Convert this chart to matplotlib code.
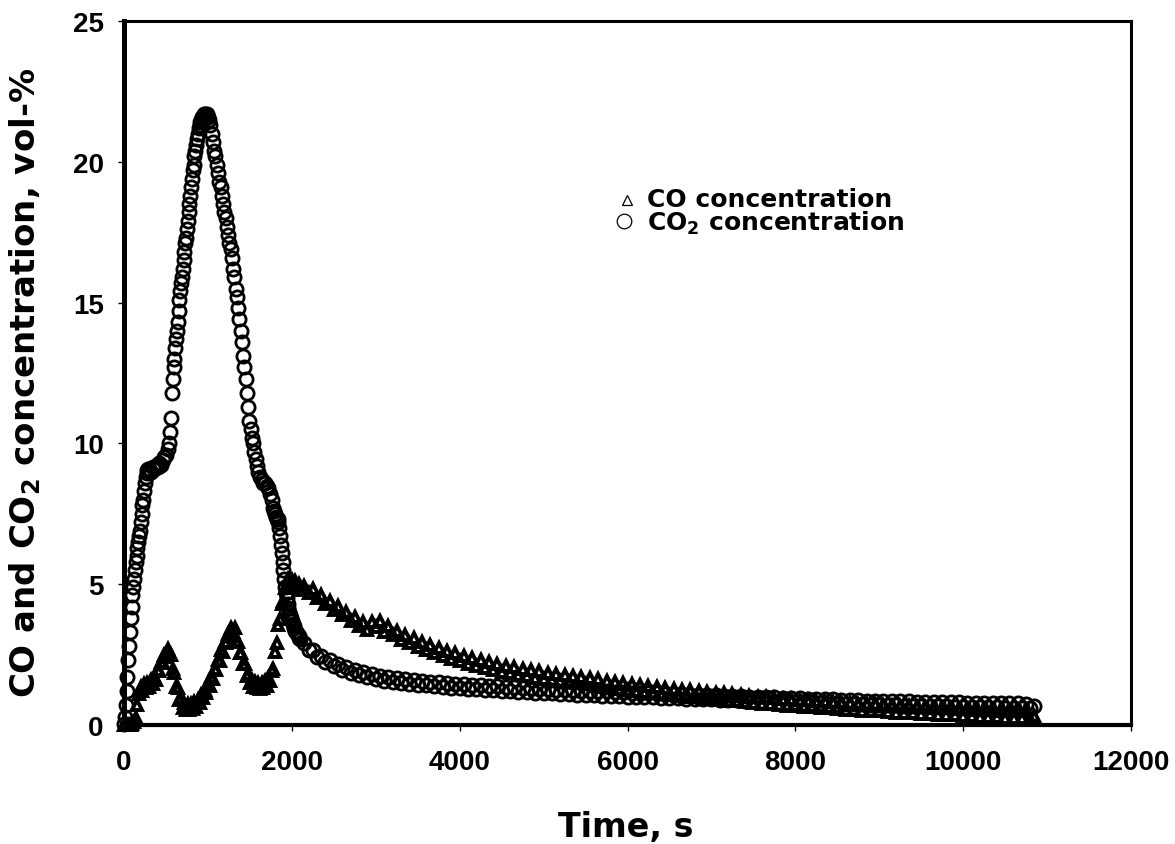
import numpy as np
import matplotlib
matplotlib.use("Agg")
import matplotlib.pyplot as plt
from matplotlib.lines import Line2D

# ---------------- data ----------------
# CO2 concentration (vol-%), sampled on piecewise time grids (s)
co2_t = np.concatenate([
    np.arange(0, 300, 10),        # 30
    np.arange(300, 540, 20),      # 12
    np.arange(540, 1001, 10),     # 47
    np.arange(1015, 1601, 15),    # 40
    np.arange(1620, 1781, 20),    # 9
    np.arange(1790, 2101, 10),    # 32
    np.arange(2150, 10851, 50),   # 175
])
co2_v = [
    # 0-290
    0.05, 0.3, 0.7, 1.2, 1.7, 2.3, 2.8, 3.3, 3.8, 4.2,
    4.6, 4.9, 5.2, 5.5, 5.8, 6.0, 6.3, 6.5, 6.7, 6.9,
    7.2, 7.5, 7.8, 8.0, 8.3, 8.6, 8.8, 8.95, 9.05, 9.1,
    # 300-520
    9.1, 9.0, 9.15, 9.1, 9.2, 9.15, 9.3, 9.25, 9.4, 9.5, 9.6, 9.8,
    # 540-1000
    10.0, 10.4, 10.9, 11.8, 12.3, 12.7, 13.0, 13.4, 13.7, 14.0,
    14.3, 14.7, 15.1, 15.4, 15.7, 15.9, 16.2, 16.5, 16.8, 17.1,
    17.3, 17.6, 17.9, 18.2, 18.5, 18.8, 19.1, 19.4, 19.7, 19.9,
    20.2, 20.4, 20.6, 20.8, 21.0, 21.2, 21.3, 21.4, 21.5, 21.6,
    21.5, 21.7, 21.6, 21.7, 21.6, 21.7, 21.6,
    # 1015-1600
    21.5, 21.3, 21.0, 20.7, 20.4, 20.2, 19.9, 19.6, 19.3, 19.1,
    18.8, 18.5, 18.2, 18.0, 17.7, 17.4, 17.1, 16.9, 16.6, 16.2,
    15.9, 15.5, 15.2, 14.8, 14.4, 14.0, 13.6, 13.1, 12.7, 12.3,
    11.8, 11.3, 10.8, 10.5, 10.2, 10.0, 9.7, 9.45, 9.2, 9.0,
    # 1620-1780
    8.8, 8.7, 8.6, 8.6, 8.5, 8.4, 8.2, 8.0, 7.7,
    # 1790-2100
    7.6, 7.5, 7.4, 7.3, 7.3, 7.2, 7.0, 6.7, 6.4, 6.1,
    5.8, 5.5, 5.2, 4.9, 4.7, 4.5, 4.3, 4.15, 4.0, 3.9,
    3.8, 3.7, 3.6, 3.5, 3.45, 3.35, 3.3, 3.25, 3.2, 3.15,
    3.1, 3.05,
    # 2150-10850 (noisy tail)
    2.92, 2.66, 2.67, 2.4, 2.45, 2.23, 2.3, 2.08, 2.15, 1.95,
    2.06, 1.85, 1.96, 1.76, 1.88, 1.69, 1.8, 1.63, 1.74, 1.57,
    1.7, 1.53, 1.66, 1.49, 1.63, 1.46, 1.6, 1.43, 1.57, 1.41,
    1.54, 1.38, 1.52, 1.35, 1.49, 1.33, 1.47, 1.31, 1.45, 1.29,
    1.43, 1.27, 1.41, 1.25, 1.39, 1.23, 1.37, 1.21, 1.35, 1.2,
    1.34, 1.18, 1.32, 1.16, 1.31, 1.15, 1.29, 1.13, 1.28, 1.12,
    1.26, 1.11, 1.25, 1.09, 1.24, 1.08, 1.22, 1.07, 1.21, 1.06,
    1.2, 1.04, 1.19, 1.03, 1.18, 1.02, 1.16, 1.01, 1.15, 1.0,
    1.14, 0.99, 1.13, 0.98, 1.12, 0.97, 1.11, 0.96, 1.1, 0.95,
    1.09, 0.94, 1.08, 0.93, 1.07, 0.92, 1.06, 0.91, 1.05, 0.9,
    1.04, 0.89, 1.03, 0.88, 1.02, 0.86, 1.01, 0.85, 1.0, 0.84,
    0.99, 0.83, 0.98, 0.82, 0.97, 0.81, 0.96, 0.8, 0.95, 0.79,
    0.94, 0.78, 0.93, 0.77, 0.92, 0.76, 0.91, 0.75, 0.9, 0.74,
    0.89, 0.73, 0.88, 0.73, 0.87, 0.72, 0.86, 0.71, 0.86, 0.7,
    0.85, 0.7, 0.84, 0.69, 0.84, 0.68, 0.83, 0.68, 0.82, 0.67,
    0.82, 0.66, 0.81, 0.66, 0.8, 0.65, 0.8, 0.65, 0.79, 0.64,
    0.79, 0.64, 0.78, 0.63, 0.78, 0.63, 0.77, 0.62, 0.77, 0.62,
    0.77, 0.61, 0.76, 0.61, 0.68,
]

# CO concentration (vol-%)
co_t = np.concatenate([
    np.arange(0, 2101, 20),       # 106
    np.arange(2150, 10851, 50),   # 175
])
co_v = [
    # 0-2100 step 20
    0.0, 0.0, 0.0, 0.0, 0.0, 0.05, 0.1, 0.25, 0.7, 1.1,
    1.35, 1.2, 1.45, 1.3, 1.5, 1.35, 1.6, 1.45, 1.7, 1.6,
    1.95, 1.9, 2.25, 2.2, 2.5, 2.4, 2.7, 2.5, 2.5, 2.0,
    1.85, 1.35, 1.3, 0.9, 0.95, 0.62, 0.78, 0.55, 0.73, 0.55,
    0.75, 0.57, 0.8, 0.65, 0.9, 0.78, 1.05, 0.95, 1.25, 1.15,
    1.48, 1.4, 1.72, 1.65, 2.0, 1.95, 2.3, 2.28, 2.65, 2.6,
    2.95, 2.9, 3.22, 3.15, 3.45, 3.3, 3.45, 3.0, 2.95, 2.55,
    2.55, 2.15, 2.15, 1.75, 1.8, 1.48, 1.6, 1.35, 1.52, 1.3,
    1.48, 1.28, 1.5, 1.32, 1.55, 1.4, 1.68, 1.58, 1.9, 2.0,
    2.6, 2.9, 3.55, 3.75, 4.3, 4.4, 4.85, 4.85, 5.2, 5.0,
    5.15, 4.9, 5.1, 4.85, 5.02, 4.8,
    # 2150-10850 step 50 (noisy tail)
    4.95, 4.7, 4.82, 4.5, 4.62, 4.3, 4.42, 4.08, 4.22, 3.9,
    4.02, 3.68, 3.84, 3.5, 3.67, 3.38, 3.64, 3.48, 3.68, 3.32,
    3.5, 3.18, 3.34, 3.03, 3.2, 2.9, 3.08, 2.78, 2.96, 2.66,
    2.84, 2.55, 2.74, 2.45, 2.64, 2.35, 2.54, 2.26, 2.46, 2.18,
    2.38, 2.1, 2.3, 2.02, 2.22, 1.95, 2.16, 1.89, 2.1, 1.83,
    2.05, 1.78, 2.0, 1.73, 1.95, 1.68, 1.9, 1.64, 1.86, 1.6,
    1.82, 1.56, 1.78, 1.52, 1.74, 1.48, 1.7, 1.44, 1.66, 1.4,
    1.62, 1.36, 1.58, 1.32, 1.54, 1.28, 1.5, 1.24, 1.46, 1.2,
    1.42, 1.16, 1.39, 1.13, 1.36, 1.1, 1.32, 1.07, 1.29, 1.04,
    1.26, 1.01, 1.23, 0.98, 1.2, 0.95, 1.17, 0.92, 1.14, 0.89,
    1.12, 0.86, 1.09, 0.84, 1.06, 0.81, 1.04, 0.78, 1.01, 0.76,
    0.99, 0.73, 0.96, 0.71, 0.94, 0.69, 0.92, 0.67, 0.9, 0.65,
    0.88, 0.63, 0.86, 0.61, 0.84, 0.59, 0.82, 0.57, 0.8, 0.55,
    0.78, 0.53, 0.76, 0.51, 0.74, 0.5, 0.73, 0.48, 0.71, 0.46,
    0.69, 0.44, 0.68, 0.43, 0.66, 0.41, 0.65, 0.4, 0.63, 0.38,
    0.62, 0.37, 0.6, 0.36, 0.59, 0.34, 0.58, 0.33, 0.56, 0.32,
    0.55, 0.3, 0.54, 0.29, 0.52, 0.28, 0.51, 0.26, 0.5, 0.25,
    0.49, 0.24, 0.48, 0.23, 0.33,
]

x_ticks = [0, 2000, 4000, 6000, 8000, 10000, 12000]
y_ticks = [0, 5, 10, 15, 20, 25]
x_label = "Time, s"
y_label = "CO and CO$_{\\mathbf{2}}$ concentration, vol-%"
label_co = "CO concentration"
label_co2 = "CO$_{\\mathbf{2}}$ concentration"

# ---------------- figure ----------------
W, H = 1175, 845
fig = plt.figure(figsize=(W / 100, H / 100), dpi=100)
plt.rcParams['mathtext.fontset'] = 'dejavusans'

ax = fig.add_axes([124 / W, 1 - 726 / H, (1131 - 124) / W, (726 - 22) / H])

ax.plot(co_t, co_v, linestyle='none', marker='^', markersize=7.5,
        markerfacecolor='none', markeredgecolor='black', markeredgewidth=2.8,
        clip_on=False, zorder=3)
ax.plot(co2_t, co2_v, linestyle='none', marker='o', markersize=9.5,
        markerfacecolor='none', markeredgecolor='black', markeredgewidth=2.0,
        clip_on=False, zorder=4)

ax.set_xlim(0, 12000)
ax.set_ylim(0, 25)
ax.set_xticks(x_ticks)
ax.set_yticks(y_ticks)
ax.set_xticklabels([str(v) for v in x_ticks])
ax.set_yticklabels([str(v) for v in y_ticks])

for lab in ax.get_xticklabels() + ax.get_yticklabels():
    lab.set_fontfamily('Liberation Sans')
    lab.set_fontweight('bold')
    lab.set_fontsize(20)

ax.tick_params(axis='both', direction='out', length=4.5, width=1, color='black')
ax.tick_params(axis='x', pad=13)
ax.tick_params(axis='y', pad=10)

ax.spines['left'].set_linewidth(3.6)
ax.spines['bottom'].set_linewidth(3.0)
ax.spines['top'].set_linewidth(2.2)
ax.spines['right'].set_linewidth(2.2)
for s in ax.spines.values():
    s.set_color('black')

# axis titles
fig.text(626 / W, 1 - 837 / H, x_label, ha='center', va='baseline',
         fontsize=24, fontweight='bold', family='DejaVu Sans')
fig.text(25 / W, 1 - 383 / H, y_label, ha='center', va='center', rotation=90,
         fontsize=24.5, fontweight='bold', family='DejaVu Sans')

# legend (no frame)
fig.add_artist(Line2D([627 / W], [1 - 201 / H], transform=fig.transFigure,
                      marker='^', markersize=7, linestyle='none',
                      markerfacecolor='white', markeredgecolor='black',
                      markeredgewidth=0.9))
fig.add_artist(Line2D([624 / W], [1 - 222 / H], transform=fig.transFigure,
                      marker='o', markersize=10.5, linestyle='none',
                      markerfacecolor='white', markeredgecolor='black',
                      markeredgewidth=0.9))
fig.text(647 / W, 1 - 207 / H, label_co, ha='left', va='baseline',
         fontsize=18, fontweight='bold', family='DejaVu Sans')
fig.text(647 / W, 1 - 231 / H, label_co2, ha='left', va='baseline',
         fontsize=18, fontweight='bold', family='DejaVu Sans')

fig.savefig('out.png', dpi=100, facecolor='white')
